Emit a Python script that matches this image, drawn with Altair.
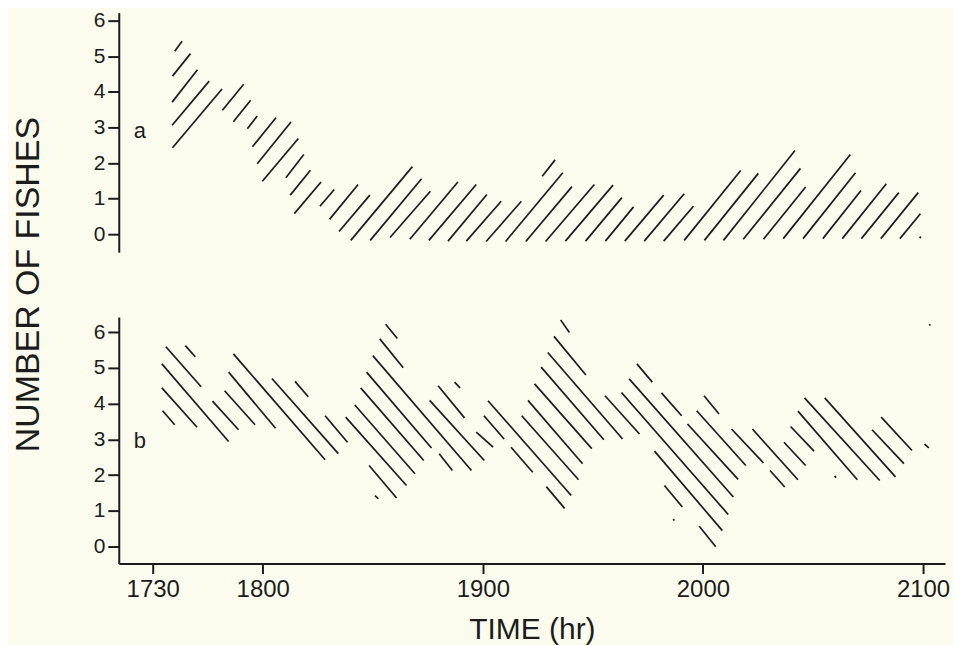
import altair as alt
import pandas as pd

# Time axis: minutes after 17:00 (tick labels shown as clock times)
tick_minutes = [30, 60, 120, 180, 240]
count_ticks = [0, 1, 2, 3, 4, 5, 6]

# Panel a: hatch segments of the band (start time, start count, end time, end count)
a_t0 = [36.0, 35.4, 35.3, 35.3, 35.4, 49.0, 52.0, 55.8, 57.2, 58.5, 59.9, 66.3, 67.5, 68.6, 75.6, 78.2,
        80.8, 84.0, 89.3, 94.7, 100.1, 105.3, 110.5, 115.5, 120.9, 126.2, 131.7, 137.1, 142.5, 148.0,
        153.4, 158.7, 164.0, 169.3, 174.9, 180.4, 185.6, 191.0, 196.5, 201.9, 207.3, 212.7, 218.0,
        223.2, 228.5, 233.7, 136.2, 239.1]
a_n0 = [5.14, 4.44, 3.71, 3.06, 2.43, 3.48, 3.16, 2.96, 2.46, 1.98, 1.49, 1.59, 1.10, 0.58, 0.79, 0.42,
        0.08, -0.17, -0.17, -0.09, -0.14, -0.17, -0.19, -0.19, -0.20, -0.20, -0.20, -0.20, -0.19, -0.19,
        -0.19, -0.19, -0.19, -0.19, -0.17, -0.17, -0.17, -0.14, -0.14, -0.12, -0.12, -0.12, -0.12,
        -0.12, -0.12, -0.12, 1.63, -0.11]
a_t1 = [38.0, 40.3, 42.2, 45.4, 48.9, 54.8, 56.7, 58.5, 63.6, 67.7, 69.7, 71.2, 73.0, 75.9, 79.5, 86.0,
        89.2, 100.8, 103.3, 105.7, 113.2, 118.2, 121.1, 125.0, 130.5, 141.8, 144.3, 150.4, 155.5, 157.9,
        161.1, 169.3, 174.9, 177.4, 190.3, 195.1, 205.1, 206.6, 208.0, 220.2, 221.6, 223.1, 230.0,
        233.4, 238.7, 239.3, 139.7, 239.4]
a_n1 = [5.42, 5.07, 4.62, 4.30, 4.08, 4.21, 3.76, 3.32, 3.27, 3.15, 2.69, 2.24, 1.80, 1.47, 1.26, 1.40,
        1.10, 1.90, 1.56, 1.21, 1.47, 1.40, 1.12, 0.93, 0.93, 1.73, 1.34, 1.40, 1.38, 1.03,
        0.77, 1.10, 1.14, 0.79, 1.79, 1.71, 2.35, 1.85, 1.33, 2.24, 1.73, 1.23, 1.42,
        1.17, 1.17, 0.58, 2.09, -0.06]

# Panel b: hatch segments of the band
b_t0 = [32.7, 32.5, 32.5, 33.6, 46.3, 38.9, 49.6, 50.7, 52.0, 62.5, 90.6, 68.8, 77.0, 89.0, 82.6, 85.1,
        86.7, 88.3, 108.1, 90.0, 91.9, 105.5, 93.5, 107.8, 118.2, 112.3, 120.3, 127.7, 137.3, 121.4,
        130.6, 132.3, 134.1, 135.9, 137.7, 169.5, 179.0, 139.4, 153.3, 166.8, 141.2, 157.8, 159.9,
        162.0, 168.7, 175.8, 178.3, 180.3, 187.8, 198.3, 193.5, 202.1, 203.9, 215.9, 205.9, 207.7,
        213.2, 226.1, 228.6, 240.4, 241.7, 171.9]
b_n0 = [3.80, 4.44, 5.11, 5.59, 4.07, 5.62, 4.36, 4.88, 5.39, 4.70, 1.43, 4.62, 3.66, 2.27, 3.62, 3.96,
        4.44, 4.88, 2.60, 5.34, 5.81, 4.09, 6.22, 4.50, 3.20, 4.60, 3.66, 2.78, 1.68, 4.08,
        3.66, 4.09, 4.55, 5.02, 5.43, 1.71, 0.57, 5.88, 4.22, 2.67, 6.34, 4.31, 4.69,
        5.11, 4.30, 3.43, 3.80, 4.22, 3.29, 2.13, 3.29, 2.92, 3.36, 1.98, 3.79, 4.16,
        4.16, 3.27, 3.62, 2.87, 6.22, 0.77]
b_t1 = [36.0, 42.1, 50.7, 43.2, 53.4, 41.6, 57.9, 63.5, 77.0, 80.6, 91.5, 72.4, 83.1, 96.5, 99.2, 101.5,
        103.9, 106.0, 111.7, 116.9, 98.3, 120.4, 96.7, 115.0, 122.8, 113.8, 125.8, 133.6, 142.3, 144.1,
        146.1, 147.2, 149.7, 153.0, 158.1, 174.4, 183.5, 148.1, 162.7, 185.3, 143.6, 186.9, 188.3,
        166.2, 174.2, 189.6, 191.7, 184.4, 196.5, 202.3, 205.9, 208.0, 210.3, 216.3, 222.1, 228.2,
        232.5, 234.8, 237.0, 241.6, 242.0, 172.2]
b_n1 = [3.41, 3.34, 2.94, 4.47, 3.27, 5.31, 3.41, 3.31, 2.43, 2.60, 1.34, 4.19, 2.92, 1.36, 1.71, 2.04,
        2.41, 2.76, 2.13, 2.13, 5.00, 2.41, 5.82, 3.60, 2.78, 4.44, 3.01, 2.08, 1.07, 1.43,
        1.87, 2.32, 2.74, 2.99, 3.01, 1.11, 0.00, 4.80, 3.15, 0.45, 5.99, 0.90, 1.39,
        4.60, 3.66, 1.88, 2.27, 3.71, 2.34, 1.67, 1.87, 2.27, 2.67, 1.93, 1.87, 1.85,
        1.95, 2.32, 2.69, 2.76, 6.18, 0.73]

# Panel letters and their positions (time, count)
panel_labels = ["a", "b"]
label_t = [26.5, 26.5]
label_n = [2.89, 2.96]

INK = "#1c1c1c"
FONT = "Liberation Sans"
X_DOMAIN = [20.75, 246.0]
PLOT_W = 828


def make_panel(t0, n0, t1, n1, ydom, h, lab_idx, show_x, ytitle):
    df = pd.DataFrame({"t0": t0, "n0": n0, "t1": t1, "n1": n1})
    ldf = pd.DataFrame({"t0": [label_t[lab_idx]], "n0": [label_n[lab_idx]], "s": [panel_labels[lab_idx]]})

    if show_x:
        xaxis = alt.Axis(values=tick_minutes,
                         labelExpr="toString(1700 + floor(datum.value / 60) * 100 + datum.value % 60)",
                         title="TIME (hr)", titleFontSize=30, titleFontWeight="normal", titleFont=FONT,
                         titleColor=INK, titlePadding=13,
                         labelFontSize=24, labelFont=FONT, labelColor=INK, labelPadding=4,
                         tickSize=10, tickWidth=2, tickColor=INK, domainWidth=2, domainColor=INK,
                         grid=False)
    else:
        xaxis = None

    yargs = dict(values=count_ticks, format="d", labelFontSize=21, labelFont=FONT, labelColor=INK,
                 labelPadding=3, tickSize=11, tickWidth=2, tickColor=INK, domainWidth=2,
                 domainColor=INK, grid=False)
    if ytitle:
        yaxis = alt.Axis(title=ytitle, titleFontSize=34, titleFontWeight="normal", titleFont=FONT,
                         titleColor=INK, titleX=-80, titleY=-33, titleAngle=270,
                         titleBaseline="alphabetic", titleAlign="center", **yargs)
    else:
        yaxis = alt.Axis(title="", **yargs)

    xs = alt.Scale(domain=X_DOMAIN, nice=False, zero=False)
    ys = alt.Scale(domain=ydom, nice=False, zero=False)

    hatch = alt.Chart(df).mark_rule(color=INK, strokeWidth=1.7).encode(
        x=alt.X("t0:Q", scale=xs, axis=xaxis),
        x2="t1:Q",
        y=alt.Y("n0:Q", scale=ys, axis=yaxis),
        y2="n1:Q",
    )
    letter = alt.Chart(ldf).mark_text(fontSize=22, font=FONT, color=INK, align="center",
                                      baseline="middle").encode(
        x=alt.X("t0:Q", scale=xs, axis=xaxis),
        y=alt.Y("n0:Q", scale=ys, axis=yaxis),
        text="s:N",
    )
    return alt.layer(hatch, letter).properties(width=PLOT_W, height=h)


panel_a = make_panel(a_t0, a_n0, a_t1, a_n1, [-0.5, 6.22], 240, 0, False, None)
panel_b = make_panel(b_t0, b_n0, b_t1, b_n1, [-0.47, 6.42], 247, 1, True, "NUMBER OF FISHES")

chart = alt.vconcat(panel_a, panel_b, spacing=65, bounds="flush").properties(
    padding={"left": 3, "top": 0, "right": 3, "bottom": 0},
    background="#fbfcee",
).configure_view(stroke=None)

chart.save("out.html", embed_options={"renderer": "svg", "actions": False})
